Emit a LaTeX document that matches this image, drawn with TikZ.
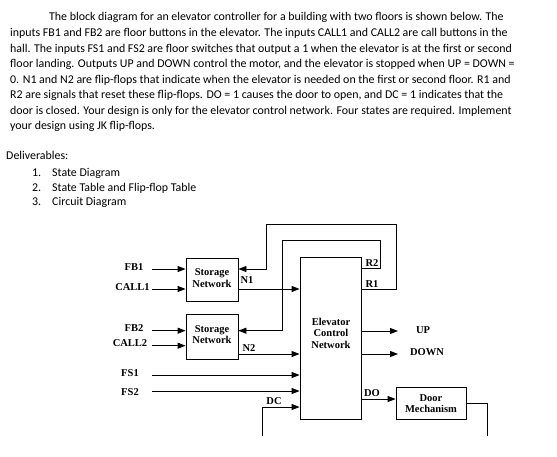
\documentclass[tikz,border=0pt]{standalone}
\usepackage{fontspec}
\setmainfont{Carlito}
\newfontfamily\diagfont{Liberation Serif}
\usetikzlibrary{arrows.meta}
\begin{document}
\begin{tikzpicture}[x=1pt,y=-1pt,
  para/.style={anchor=base west, inner sep=0pt, font=\fontsize{11.9}{13}\selectfont},
  lbl/.style={inner sep=0pt, font=\diagfont\bfseries\fontsize{10.5}{11.5}\selectfont},
  blk/.style={draw, line width=0.9pt, inner sep=0pt},
  wire/.style={line width=0.9pt},
  arr/.style={wire, -{Triangle[length=8pt,width=6pt]}}
]
\useasboundingbox (0,0) rectangle (557,456);

% paragraph
\node[para] (p1) at (49,20.5) {The block diagram for an elevator controller for a building with two floors is shown below. The};
\node[para] (p2) at (10,36.5) {inputs FB1 and FB2 are floor buttons in the elevator. The inputs CALL1 and CALL2 are call buttons in the};
\node[para] (p3) at (10,52) {hall. The inputs FS1 and FS2 are floor switches that output a 1 when the elevator is at the first or second};
\node[para] (p4) at (10,67.7) {floor landing. Outputs UP and DOWN control the motor, and the elevator is stopped when UP = DOWN =};
\node[para] (p5) at (10,83.2) {0. N1 and N2 are flip-flops that indicate when the elevator is needed on the first or second floor. R1 and};
\node[para] (p6) at (10,98.8) {R2 are signals that reset these flip-flops. DO = 1 causes the door to open, and DC = 1 indicates that the};
\node[para] (p7) at (10,114.3) {door is closed. Your design is only for the elevator control network. Four states are required. Implement};
\node[para] (p8) at (10,129.8) {your design using JK flip-flops.};

\node[para] (dl) at (6,159) {Deliverables:};
\node[para] (d1n) at (32,176) {1.};
\node[para] (d1) at (52,176) {State Diagram};
\node[para] (d2n) at (32,191) {2.};
\node[para] (d2) at (52,191) {State Table and Flip-flop Table};
\node[para] (d3n) at (32,205.5) {3.};
\node[para] (d3) at (52,205.5) {Circuit Diagram};

% blocks
\node[blk, minimum width=52pt, minimum height=43pt] (box1) at (212,279.5) {};
\node[lbl, align=center] (box1t) at (212,278) {Storage\\Network};
\node[blk, minimum width=52pt, minimum height=45pt] (box2) at (212,336.5) {};
\node[lbl, align=center] (box2t) at (212,334.5) {Storage\\Network};
\node[blk, minimum width=61pt, minimum height=162pt] (elev) at (330.5,338) {};
\node[lbl, align=center] (elevt) at (331,333) {Elevator\\Control\\Network};
\node[blk, minimum width=70pt, minimum height=32pt] (door) at (431,403) {};
\node[lbl, align=center] (doort) at (431,403.5) {Door\\Mechanism};

% input labels
\node[lbl] (fb1) at (134,267) {FB1};
\node[lbl] (call1) at (132.5,287) {CALL1};
\node[lbl] (fb2) at (134,328) {FB2};
\node[lbl] (call2) at (130,343.5) {CALL2};
\node[lbl] (fs1) at (130,373) {FS1};
\node[lbl] (fs2) at (130,392) {FS2};

% signal labels
\node[lbl] (n1) at (247,280) {N1};
\node[lbl] (n2) at (249,348) {N2};
\node[lbl] (r2) at (372,263) {R2};
\node[lbl] (r1) at (372,284) {R1};
\node[lbl] (up) at (423,330) {UP};
\node[lbl] (down) at (427,352) {DOWN};
\node[lbl] (do) at (372,393) {DO};
\node[lbl] (dc) at (274,401) {DC};

% coordinates
\coordinate (fb1s) at (152,269);
\coordinate (call1s) at (152,289);
\coordinate (fb2s) at (152,330.7);
\coordinate (call2s) at (152,345.7);
\coordinate (fs1s) at (152,375);
\coordinate (fs2s) at (152,391);
\coordinate (n2y) at (238,354);
\coordinate (dcs) at (262,436);
\coordinate (dcy) at (262,407);
\coordinate (r1a) at (396,289);
\coordinate (r1b) at (396,224);
\coordinate (r1c) at (266,224);
\coordinate (r2y) at (361,268);
\coordinate (r2a) at (380,268);
\coordinate (r2b) at (380,240);
\coordinate (r2c) at (282,240);
\coordinate (upe) at (398,331);
\coordinate (downe) at (398,354);
\coordinate (doy) at (361,399);
\coordinate (dooro) at (466,403);
\coordinate (doora) at (487,403);
\coordinate (doorb) at (487,436);

% input wires
\draw[arr] (fb1s) -- (fb1s -| box1.west);
\draw[arr] (call1s) -- (call1s -| box1.west);
\draw[arr] (fb2s) -- (fb2s -| box2.west);
\draw[arr] (call2s) -- (call2s -| box2.west);
\draw[arr] (fs1s) -- (fs1s -| elev.west);
\draw[arr] (fs2s) -- (fs2s -| elev.west);

% N1, N2
\draw[arr] (call1s -| box1.east) -- (call1s -| elev.west);
\draw[arr] (n2y) -- (n2y -| elev.west);

% DC
\draw[arr] (dcs) -- (dcy) -- (dcy -| elev.west);

% R1 loop
\draw[arr] (r1a -| elev.east) -- (r1a) -- (r1b) -- (r1c) -- (r1c |- fb1s) -- (fb1s -| box1.east);
% R2 loop
\draw[arr] (r2y) -- (r2a) -- (r2b) -- (r2c) -- (r2c |- fb2s) -- (fb2s -| box2.east);

% outputs
\draw[arr] (upe -| elev.east) -- (upe);
\draw[arr] (downe -| elev.east) -- (downe);
\draw[arr] (doy) -- (doy -| door.west);
\draw[wire] (dooro) -- (doora) -- (doorb);
\end{tikzpicture}
\end{document}
